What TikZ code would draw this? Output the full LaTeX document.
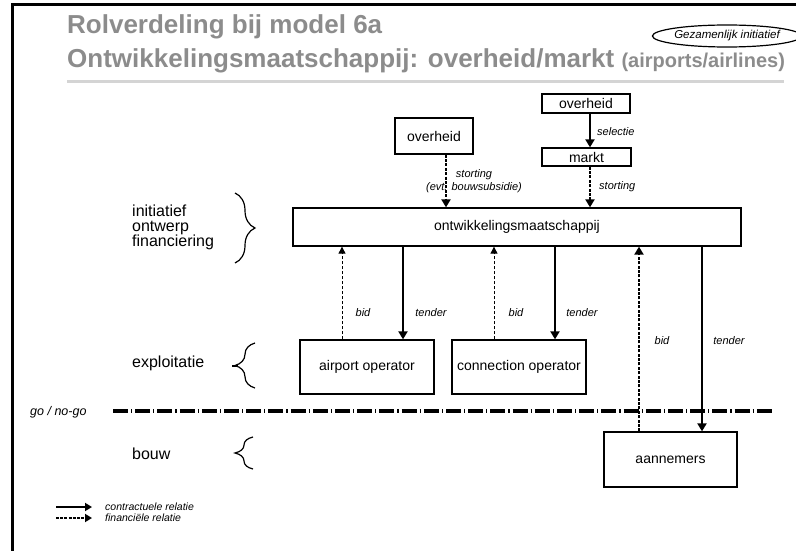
\documentclass[tikz,border=0pt]{standalone}
\usepackage{fontspec}
\setmainfont{Liberation Sans}
\usepackage{tikz}
\usetikzlibrary{positioning}
\usetikzlibrary{arrows.meta}
\usetikzlibrary{shapes.geometric}
\usetikzlibrary{decorations.pathreplacing}
\usepackage{xcolor}
\definecolor{titlegray}{RGB}{140,140,140}
\definecolor{rulegray}{RGB}{212,212,212}

\tikzset{
  box/.style={draw, line width=1.3pt, inner sep=0pt, font=\fontsize{14}{16}\selectfont},
  lbl/.style={font=\fontsize{11}{13}\selectfont\itshape, inner sep=0pt},
  side/.style={font=\fontsize{16}{15}\selectfont, inner sep=0pt, align=left, anchor=west},
  contract/.style={line width=2.6pt, -{Triangle[length=8pt,width=9pt]}},
  financial/.style={line width=2.6pt, dash pattern=on 3pt off 1.4pt, -{Triangle[length=8pt,width=9pt]}},
  bidline/.style={line width=0.9pt, dash pattern=on 3pt off 2pt, -{Triangle[length=7pt,width=7pt]}},
  accolade/.style={decorate, decoration={brace, amplitude=#1}, line width=1.2pt},
}

\begin{document}
\begin{tikzpicture}[x=1pt, y=-1pt]
  \useasboundingbox (0,0) rectangle (796,551);

  % Frame and heading
  \draw[line width=3pt] (12,551) -- (12,5) -- (796,5);
  \node[anchor=base west, inner sep=0pt, text=titlegray, font=\fontsize{26}{28}\selectfont\bfseries] (title1) at (67,34) {Rolverdeling bij model 6a};
  \node[anchor=base west, inner sep=0pt, text=titlegray, font=\fontsize{26}{28}\selectfont\bfseries] (title2) at (67,68)
    {Ontwikkelingsmaatschappij: overheid/markt {\fontsize{20}{22}\selectfont(airports/airlines)}};
  \node[ellipse, draw, line width=1.2pt, minimum width=127pt, minimum height=22pt, inner sep=0pt,
        font=\fontsize{11.5}{13}\selectfont\itshape] (gezam) at (727,36) {Gezamenlijk initiatief};
  \draw[rulegray, line width=3pt] (67,82) -- (784,82);

  % Boxes
  \node[box, minimum width=78pt, minimum height=36pt] (ovL) at (434,136) {overheid};
  \node[box, minimum width=88pt, minimum height=19pt] (ovR) at (586,103.5) {overheid};
  \node[box, minimum width=89pt, minimum height=18pt] (markt) at (586.5,157) {markt};
  \node[box, minimum width=448pt, minimum height=38pt] (om) at (517,227) {ontwikkelingsmaatschappij};
  \node[box, minimum width=134pt, minimum height=54pt] (ap) at (367,367) {airport operator};
  \node[box, minimum width=134pt, minimum height=54pt] (co) at (519,367) {connection operator};
  \node[box, minimum width=133pt, minimum height=55pt] (aan) at (670.5,459.5) {aannemers};

  % Positions of the connectors
  \coordinate (xst) at (446,0);
  \coordinate (xmk) at (590,0);
  \coordinate (xb1) at (342,0);
  \coordinate (xt1) at (403,0);
  \coordinate (xb2) at (494,0);
  \coordinate (xt2) at (555,0);
  \coordinate (xb3) at (639,0);
  \coordinate (xt3) at (702,0);

  % Connectors
  \draw[financial] (ovL.south -| xst) -- (om.north -| xst);
  \draw[contract] (ovR.south -| xmk) -- (markt.north -| xmk);
  \draw[financial] (markt.south -| xmk) -- (om.north -| xmk);
  \draw[bidline] (ap.north -| xb1) -- (om.south -| xb1);
  \draw[contract] (om.south -| xt1) -- (ap.north -| xt1);
  \draw[bidline] (co.north -| xb2) -- (om.south -| xb2);
  \draw[contract] (om.south -| xt2) -- (co.north -| xt2);
  \draw[financial] (aan.north -| xb3) -- (om.south -| xb3);
  \draw[contract] (om.south -| xt3) -- (aan.north -| xt3);

  % Connector labels
  \node[lbl, align=center] (lstL) at (474,181) {storting\\(evt. bouwsubsidie)};
  \node[lbl, anchor=west] (lsel) at (597,132) {selectie};
  \node[lbl, anchor=west] (lstR) at (599,187) {storting};
  \node[lbl] (lb1) at (363,313) {bid};
  \node[lbl] (lt1) at (431,313) {tender};
  \node[lbl] (lb2) at (516,313) {bid};
  \node[lbl] (lt2) at (582,313) {tender};
  \node[lbl] (lb3) at (662,341) {bid};
  \node[lbl] (lt3) at (729,341) {tender};

  % Phases
  \node[side] (init) at (132,227) {initiatief\\ontwerp\\financiering};
  \draw[accolade=20pt] (235,193) -- (235,263);
  \node[side] (expl) at (132,363) {exploitatie};
  \draw[accolade=20pt] (255,388) -- (255,343);
  \draw[line width=2pt] (232,365.5) -- (238,365.5);
  \node[side] (bouw) at (132,454) {bouw};
  \draw[accolade=18pt] (253,469) -- (253,437);

  % go / no-go
  \coordinate (goL) at (113,411);
  \coordinate (goR) at (773,411);
  \node[lbl, font=\fontsize{12.5}{14}\selectfont\itshape, anchor=west] (gonogo) at (30,412) {go / no-go};
  \draw[line width=4pt, dash pattern=on 15pt off 3pt on 1.2pt off 3pt] (goL) -- (goR);

  % Legend
  \coordinate (lg1) at (56,507);
  \coordinate (lg2) at (92,507);
  \coordinate (lg3) at (56,518);
  \coordinate (lg4) at (92,518);
  \draw[line width=2pt, -{Triangle[length=7pt,width=8pt]}] (lg1) -- (lg2);
  \draw[line width=2pt, dash pattern=on 3pt off 1.2pt, -{Triangle[length=7pt,width=8pt]}] (lg3) -- (lg4);
  \node[lbl, font=\fontsize{10.5}{12}\selectfont\itshape, anchor=west] (lgc) at (105,507) {contractuele relatie};
  \node[lbl, font=\fontsize{10.5}{12}\selectfont\itshape, anchor=west] (lgf) at (105,518) {financiële relatie};
\end{tikzpicture}
\end{document}
